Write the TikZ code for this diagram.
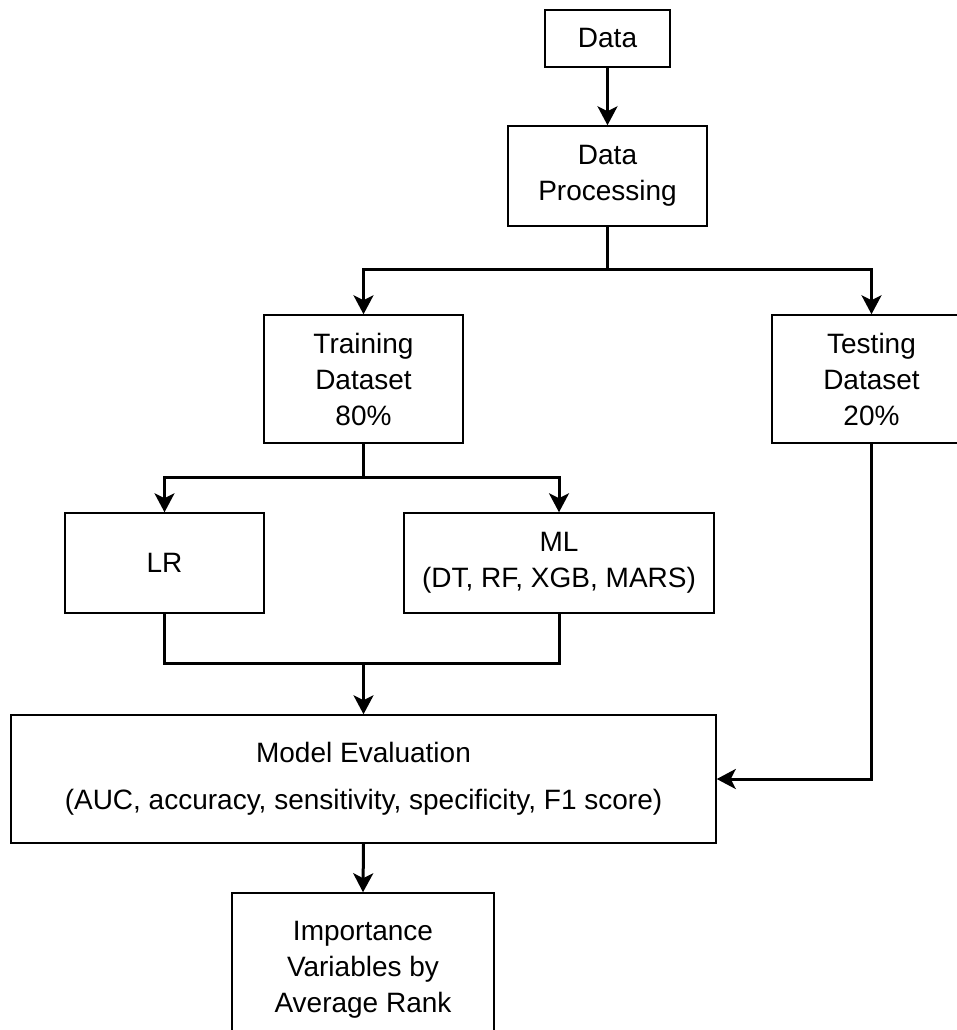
\documentclass[tikz,border=0pt]{standalone}
\usepackage{fontspec}
\setmainfont{Liberation Sans}
\usetikzlibrary{arrows.meta}
\begin{document}
\begin{tikzpicture}[x=1pt,y=-1pt,
  box/.style={draw=black, line width=1.5pt, inner sep=0pt, align=center,
    font=\fontsize{28}{36}\selectfont},
  arr/.style={line width=3pt, -{Stealth[length=19pt,width=20pt,inset=5pt]}},
  ln/.style={line width=3pt}]
\useasboundingbox (0,0) rectangle (957,1030);
\clip (0,0) rectangle (957,1030);
\node[box, minimum width=125pt, minimum height=57pt] (data) at (607.5,38.5) {Data};
\node[box, minimum width=199pt, minimum height=100pt] (proc) at (607.5,176) {Data\\Processing};
\node[box, minimum width=199pt, minimum height=128pt] (train) at (363.5,379) {Training\\Dataset\\80\%};
\node[box, minimum width=199pt, minimum height=128pt] (test) at (871.5,379) {Testing\\Dataset\\20\%};
\node[box, minimum width=199pt, minimum height=100pt] (lr) at (164.5,563) {LR};
\node[box, minimum width=310pt, minimum height=100pt] (ml) at (559,563) {ML\\(DT, RF, XGB, MARS)};
\node[box, minimum width=705pt, minimum height=128pt] (eval) at (363.5,779) {Model Evaluation\\[11pt](AUC, accuracy, sensitivity, specificity, F1 score)};
\node[box, minimum width=262pt, minimum height=154pt] (imp) at (363,970) {Importance\\Variables by\\Average Rank};
\coordinate (s1) at (607.5,269);
\coordinate (s2) at (363.5,477);
\coordinate (m1) at (363.5,663);
\draw[arr] (data.south) -- (proc.north);
\draw[arr] (proc.south) -- (s1) -| (train.north);
\draw[arr] (proc.south) -- (s1) -| (test.north);
\draw[arr] (train.south) -- (s2) -| (lr.north);
\draw[arr] (train.south) -- (s2) -| (ml.north);
\draw[ln] (lr.south) |- (m1);
\draw[ln] (ml.south) |- (m1);
\draw[arr] (m1) -- (eval.north);
\draw[arr] (test.south) |- (eval.east);
\draw[arr] (eval.south) -- (imp.north);
\end{tikzpicture}
\end{document}
